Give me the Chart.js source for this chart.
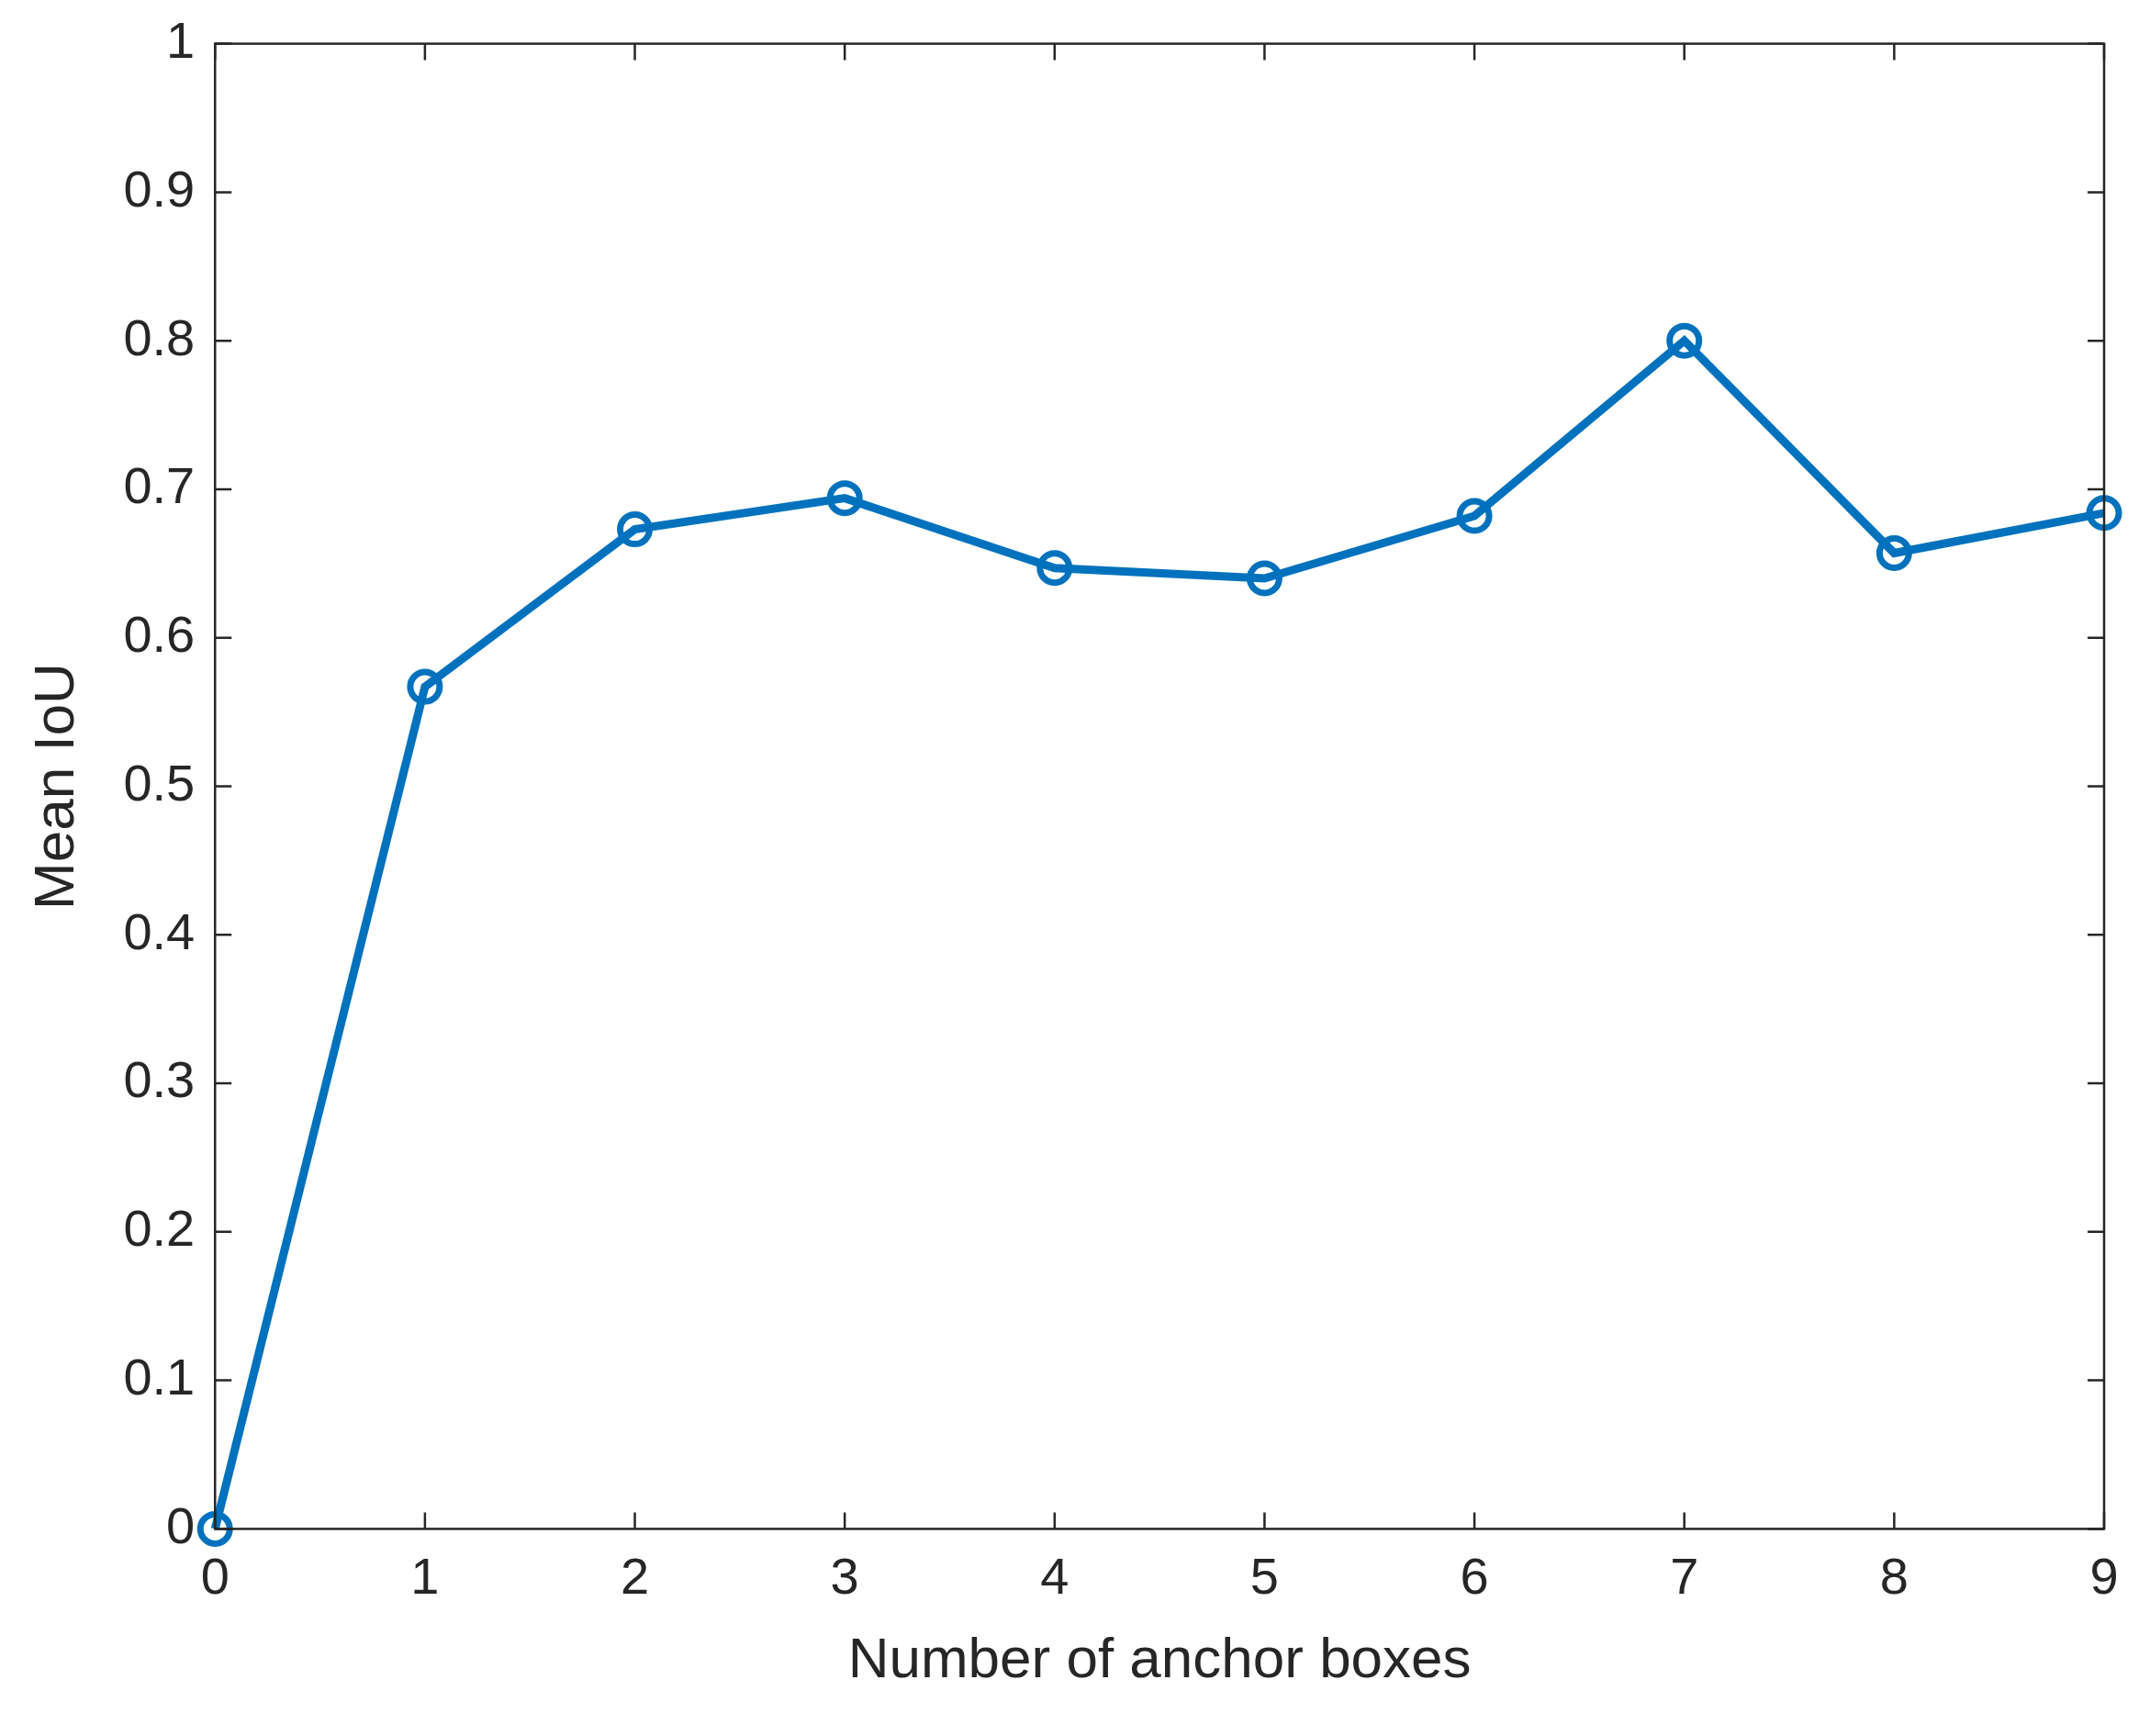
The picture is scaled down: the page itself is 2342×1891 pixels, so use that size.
<!DOCTYPE html>
<html>
<head>
<meta charset="utf-8">
<script src="https://cdn.jsdelivr.net/npm/chart.js@4"></script>
<style>
  html, body { margin: 0; background: #fff; }
  #wrap { width: 2342px; height: 1891px; }
</style>
</head>
<body>
<div id="wrap"><canvas id="myChart"></canvas></div>
<script>
const anchorBoxes = [0, 1, 2, 3, 4, 5, 6, 7, 8, 9];
const meanIoU = [0, 0.567, 0.673, 0.694, 0.647, 0.640, 0.682, 0.800, 0.657, 0.684];
const yTicks = [0, 0.1, 0.2, 0.3, 0.4, 0.5, 0.6, 0.7, 0.8, 0.9, 1];

// MATLAB-like box with inward ticks on every side
const boxTicks = {
  id: "boxTicks",
  afterDraw(chart) {
    const { ctx, chartArea: a, scales } = chart;
    const len = 18;
    ctx.save();
    ctx.strokeStyle = "#262626";
    ctx.lineWidth = 2.5;
    ctx.strokeRect(a.left, a.top, a.right - a.left, a.bottom - a.top);
    ctx.beginPath();
    anchorBoxes.forEach((v) => {
      const x = scales.x.getPixelForValue(v);
      ctx.moveTo(x, a.bottom); ctx.lineTo(x, a.bottom - len);
      ctx.moveTo(x, a.top); ctx.lineTo(x, a.top + len);
    });
    yTicks.forEach((v) => {
      const y = scales.y.getPixelForValue(v);
      ctx.moveTo(a.left, y); ctx.lineTo(a.left + len, y);
      ctx.moveTo(a.right, y); ctx.lineTo(a.right - len, y);
    });
    ctx.stroke();
    ctx.restore();
  },
};

const tickFont = { family: "Liberation Sans", size: 56 };

new Chart(document.getElementById("myChart"), {
  type: "line",
  data: {
    datasets: [{
      data: anchorBoxes.map((x, i) => ({ x, y: meanIoU[i] })),
      borderColor: "#0072BD",
      backgroundColor: "rgba(0,0,0,0)",
      borderWidth: 9,
      pointRadius: 16,
      pointBorderWidth: 7,
      pointBorderColor: "#0072BD",
      pointBackgroundColor: "rgba(0,0,0,0)",
      tension: 0,
      clip: false,
    }],
  },
  options: {
    responsive: true,
    maintainAspectRatio: false,
    animation: false,
    layout: { padding: { left: 22, right: 50, top: 36, bottom: 40 } },
    plugins: { legend: { display: false }, tooltip: { enabled: false } },
    scales: {
      x: {
        type: "linear", min: 0, max: 9,
        afterBuildTicks: (s) => { s.ticks = anchorBoxes.map((v) => ({ value: v })); },
        grid: { display: false },
        border: { display: false },
        ticks: { color: "#262626", font: tickFont, padding: 14, maxRotation: 0 },
        title: { display: true, text: "Number of anchor boxes", color: "#262626",
                 font: { family: "Liberation Sans", size: 62 }, padding: { top: 4 } },
      },
      y: {
        type: "linear", min: 0, max: 1,
        afterBuildTicks: (s) => { s.ticks = yTicks.map((v) => ({ value: v })); },
        grid: { display: false },
        border: { display: false },
        ticks: { color: "#262626", font: tickFont, padding: 14,
                 callback: (v) => String(Math.round(v * 10) / 10) },
        title: { display: true, text: "Mean IoU", color: "#262626",
                 font: { family: "Liberation Sans", size: 62 }, padding: { bottom: 20 } },
      },
    },
  },
  plugins: [boxTicks],
});
</script>
</body>
</html>
